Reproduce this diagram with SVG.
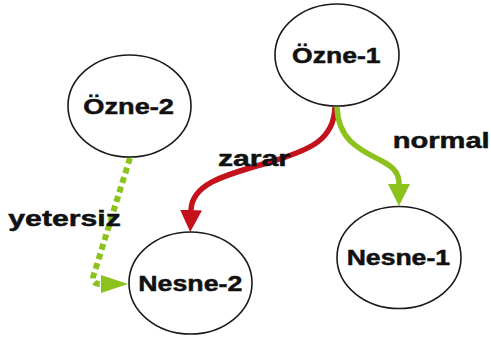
<svg xmlns="http://www.w3.org/2000/svg" width="491" height="342" viewBox="0 0 491 342">
  <style>
    .node { fill: #ffffff; stroke: #1a1a1a; stroke-width: 1.6; }
    .label { font-family: "Liberation Sans", Arial, sans-serif; font-weight: bold; font-size: 22px; fill: #111111; stroke: #111111; stroke-width: 0.5; }
    .edge { fill: none; stroke-width: 5.5; }
    .red { stroke: #C3121C; }
    .green { stroke: #8CC21C; }
    .dotted { stroke-width: 6; stroke-dasharray: 6 4; }
  </style>
  <defs>
    <marker id="headRed" markerUnits="userSpaceOnUse" viewBox="0 0 22 22" refX="0" refY="11" markerWidth="22" markerHeight="22" orient="auto">
      <path d="M0,0 L22,11 L0,22 z" fill="#C3121C"/>
    </marker>
    <marker id="headGreen" markerUnits="userSpaceOnUse" viewBox="0 0 22 22" refX="0" refY="11" markerWidth="22" markerHeight="22" orient="auto">
      <path d="M0,0 L22,11 L0,22 z" fill="#8CC21C"/>
    </marker>
    <marker id="headGreenLong" markerUnits="userSpaceOnUse" viewBox="0 0 27 18" refX="0" refY="9" markerWidth="27" markerHeight="18" orient="auto">
      <path d="M0,0 L27,9 L0,18 z" fill="#8CC21C"/>
    </marker>
  </defs>

  <!-- connectors -->
  <g id="connectors">
    <path class="edge red" d="M335,107 C334,140 310,150 270,162 C230,174 192,182 191,210" marker-end="url(#headRed)"/>
    <path class="edge green" d="M337,107 C338,140 360,150 380,160 C396,168 399,175 399,184" marker-end="url(#headGreen)"/>
    <path class="edge green dotted" d="M130,158 L94,274 Q90,284 101,284" marker-end="url(#headGreenLong)"/>
    <text class="label" x="218" y="165.5" textLength="72" lengthAdjust="spacingAndGlyphs">zarar</text>
    <text class="label" x="392.7" y="148" textLength="97" lengthAdjust="spacingAndGlyphs">normal</text>
    <text class="label" x="8.3" y="226" textLength="112.5" lengthAdjust="spacingAndGlyphs">yetersiz</text>
  </g>

  <!-- nodes -->
  <g id="ozne1">
    <ellipse class="node" cx="337" cy="55" rx="62" ry="51"/>
    <text class="label" x="292" y="63" textLength="88.5" lengthAdjust="spacingAndGlyphs">Özne-1</text>
  </g>
  <g id="ozne2">
    <ellipse class="node" cx="129.5" cy="106" rx="61.5" ry="51"/>
    <text class="label" x="83.3" y="113.5" textLength="90.7" lengthAdjust="spacingAndGlyphs">Özne-2</text>
  </g>
  <g id="nesne2">
    <ellipse class="node" cx="190.5" cy="283" rx="61.5" ry="51"/>
    <text class="label" x="138.3" y="291" textLength="104" lengthAdjust="spacingAndGlyphs">Nesne-2</text>
  </g>
  <g id="nesne1">
    <ellipse class="node" cx="399" cy="257.5" rx="62" ry="51"/>
    <text class="label" x="346.7" y="265" textLength="103.3" lengthAdjust="spacingAndGlyphs">Nesne-1</text>
  </g>
</svg>
